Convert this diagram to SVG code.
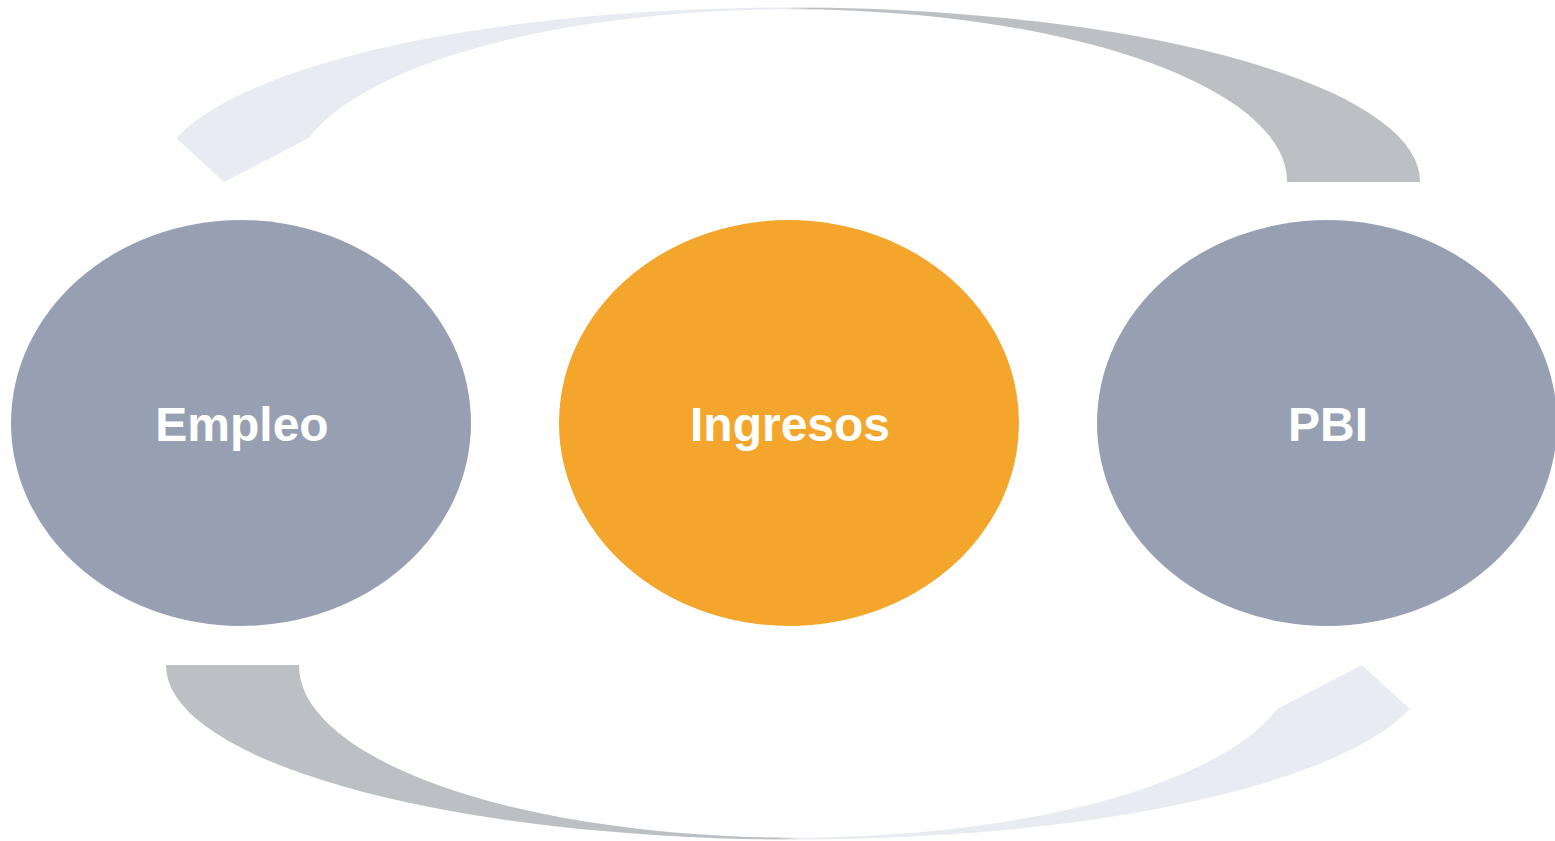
<svg xmlns="http://www.w3.org/2000/svg" width="1555" height="841" viewBox="0 0 1555 841">
<style>
.node-gray{fill:#97A0B2}
.node-orange{fill:#F3A62B}
.lbl{font-family:"Liberation Sans",Arial,sans-serif;font-weight:bold;font-size:48px;fill:#FFFFFF;text-anchor:middle}
</style>
<defs>
<linearGradient id="arrowGrad" gradientUnits="userSpaceOnUse" x1="176" y1="0" x2="1420" y2="0">
<stop offset="0" stop-color="#E8ECF2"/>
<stop offset="0.49" stop-color="#E8ECF2"/>
<stop offset="0.51" stop-color="#BCBFC4"/>
<stop offset="1" stop-color="#BCBFC4"/>
</linearGradient>
</defs>
<rect width="1555" height="841" fill="#FFFFFF"/>
<g id="connectors">
<path id="arrow-top" fill="url(#arrowGrad)" d="M1420,182 A632,174 0 0 0 176,138 L224,182 L309,138 A497,172 0 0 1 1287,182 Z"/>
<path id="arrow-bottom" fill="url(#arrowGrad)" transform="rotate(180 793 423.5)" d="M1420,182 A632,174 0 0 0 176,138 L224,182 L309,138 A497,172 0 0 1 1287,182 Z"/>
</g>
<g id="node-empleo">
<ellipse class="node-gray" cx="241" cy="423" rx="230" ry="203"/>
<text class="lbl" x="242" y="441">Empleo</text>
</g>
<g id="node-ingresos">
<ellipse class="node-orange" cx="789" cy="423" rx="230" ry="203"/>
<text class="lbl" x="790" y="441">Ingresos</text>
</g>
<g id="node-pbi">
<ellipse class="node-gray" cx="1327" cy="423" rx="230" ry="203"/>
<text class="lbl" x="1328" y="441">PBI</text>
</g>
</svg>
